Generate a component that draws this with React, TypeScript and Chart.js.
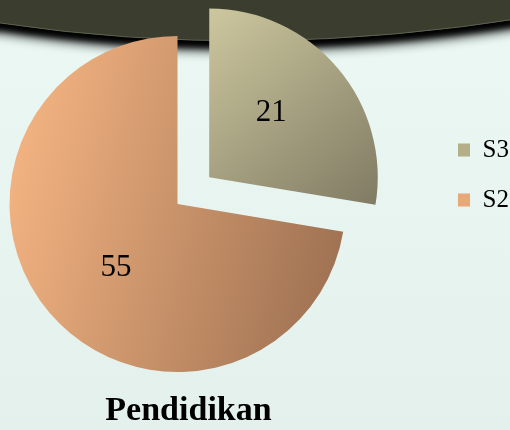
import React, { useEffect, useRef } from "react";
import { Chart, registerables } from "chart.js";

Chart.register(...registerables);

// ---- data ----
const categories = ["S3", "S2"];
const values = [21, 55];
const chartTitle = "Pendidikan";

// ---- styling ----
const sliceOffsets = [166, 0]; // Chart.js moves a slice by about offset / 4
const RADIUS = 168;
const SHIFT_X = 136; // canvas starts left of the page so title/legend/pie line up
const CANVAS_W = 649;
const CANVAS_H = 430;
const LEFT_SPACER = 58;
const LABEL_DIST = 0.53;
const LABEL_ROTATION = (-6 * Math.PI) / 180;
const gradStops = [
  ["#ccc79e", "#817b64"],
  ["#f3b381", "#9f7253"],
];
const legendColors = ["#b4ae89", "#e8a877"];
const SERIF = "'Liberation Serif', serif";

// how far Chart.js really shifts an offset arc (mirrors ArcElement.draw)
function effectiveShift(offset: number, circumference: number) {
  const base = offset / 4;
  const fix = 1 - Math.sin(Math.min(Math.PI, circumference || 0));
  return base + base * fix;
}

const backgroundPlugin = {
  id: "pageBackground",
  beforeDraw(chart: any) {
    const { ctx, width, height } = chart;
    ctx.save();
    const g = ctx.createLinearGradient(0, 0, 0, height);
    g.addColorStop(0, "#ebf8f4");
    g.addColorStop(1, "#e3f0ec");
    ctx.fillStyle = g;
    ctx.fillRect(0, 0, width, height);
    ctx.translate(SHIFT_X, 0);
    const band = () => {
      ctx.beginPath();
      ctx.moveTo(-SHIFT_X - 5, -30);
      ctx.lineTo(530, -30);
      ctx.lineTo(530, 17);
      ctx.quadraticCurveTo(255, 61.5, 0, 23);
      ctx.lineTo(-SHIFT_X - 5, 21);
      ctx.closePath();
    };
    ctx.fillStyle = "#3b3d2f";
    ctx.shadowColor = "rgba(0,0,0,1)";
    ctx.shadowBlur = 12;
    ctx.shadowOffsetY = 9;
    band();
    ctx.fill();
    ctx.shadowBlur = 6;
    ctx.shadowOffsetY = 6;
    band();
    ctx.fill();
    ctx.shadowColor = "transparent";
    band();
    ctx.fill();
    ctx.beginPath();
    ctx.moveTo(530, 17);
    ctx.quadraticCurveTo(255, 61.5, 0, 23);
    ctx.strokeStyle = "rgba(110,115,95,0.7)";
    ctx.lineWidth = 1;
    ctx.stroke();
    ctx.restore();
  },
};

const sliceLabelPlugin = {
  id: "sliceLabels",
  afterDatasetsDraw(chart: any) {
    const meta = chart.getDatasetMeta(0);
    const data = chart.data.datasets[0].data;
    const ctx = chart.ctx;
    ctx.save();
    ctx.font = `31px ${SERIF}`;
    ctx.fillStyle = "#000";
    ctx.textAlign = "center";
    ctx.textBaseline = "middle";
    meta.data.forEach((arc: any, i: number) => {
      const { x, y, startAngle, endAngle, outerRadius, circumference } = arc.getProps(
        ["x", "y", "startAngle", "endAngle", "outerRadius", "circumference"],
        true
      );
      const mid = (startAngle + endAngle) / 2;
      const shift = effectiveShift(arc.options.offset || 0, circumference);
      const vx = x + Math.cos(mid) * shift;
      const vy = y + Math.sin(mid) * shift;
      const a = mid + LABEL_ROTATION;
      const d = outerRadius * LABEL_DIST;
      ctx.fillText(String(data[i]), vx + Math.cos(a) * d, vy + Math.sin(a) * d);
    });
    ctx.restore();
  },
};

function sliceFill(c: any) {
  const chart = c.chart;
  const ca = chart.chartArea;
  const i = c.dataIndex ?? 0;
  if (!ca) return legendColors[i];
  const cx = (ca.left + ca.right) / 2;
  const cy = (ca.top + ca.bottom) / 2;
  const total = values.reduce((s, v) => s + v, 0);
  let start = -Math.PI / 2;
  for (let k = 0; k < i; k++) start += (values[k] / total) * Math.PI * 2;
  const circ = (values[i] / total) * Math.PI * 2;
  const mid = start + circ / 2;
  const shift = effectiveShift(sliceOffsets[i], circ);
  const vx = cx + Math.cos(mid) * shift;
  const vy = cy + Math.sin(mid) * shift;
  const g =
    i === 0
      ? chart.ctx.createLinearGradient(vx, vy - RADIUS, vx + RADIUS, vy + 0.15 * RADIUS)
      : chart.ctx.createLinearGradient(vx - RADIUS, vy - 0.25 * RADIUS, vx + RADIUS, vy + 0.25 * RADIUS);
  g.addColorStop(0, gradStops[i][0]);
  g.addColorStop(1, gradStops[i][1]);
  return g;
}

export default function App() {
  const ref = useRef<HTMLCanvasElement>(null);

  useEffect(() => {
    if (!ref.current) return;
    const chart = new Chart(ref.current, {
      type: "pie",
      data: {
        labels: categories,
        datasets: [
          {
            data: values,
            backgroundColor: sliceFill as any,
            borderWidth: 0,
            offset: sliceOffsets,
            radius: RADIUS,
            clip: false,
          } as any,
        ],
      },
      options: {
        responsive: false,
        animation: false,
        devicePixelRatio: 1,
        layout: { padding: { left: 0, right: 0, top: 112.5, bottom: 1.5 } },
        plugins: {
          legend: {
            position: "right",
            align: "start",
            fullSize: false,
            maxWidth: 80,
            labels: {
              color: "#000",
              font: { family: SERIF, size: 25 },
              boxWidth: 12,
              boxHeight: 13,
              padding: 25,
              generateLabels: () =>
                categories.map((t, i) => ({
                  text: t,
                  fillStyle: legendColors[i],
                  strokeStyle: legendColors[i],
                  lineWidth: 0,
                  hidden: false,
                  index: i,
                  fontColor: "#000",
                })),
            },
          },
          // empty left box: only reserves space so the pie sits left of the title centre
          subtitle: {
            display: true,
            text: "",
            position: "left",
            fullSize: false,
            font: { size: 1, lineHeight: 1 },
            padding: { top: LEFT_SPACER - 1, bottom: 0 },
          },
          title: {
            display: true,
            text: chartTitle,
            position: "bottom",
            fullSize: true,
            color: "#000",
            font: { family: SERIF, size: 34, weight: "bold", lineHeight: 1 },
            padding: { top: 99, bottom: 0 },
          },
          tooltip: { enabled: false },
        },
      } as any,
      plugins: [backgroundPlugin, sliceLabelPlugin],
    });
    return () => chart.destroy();
  }, []);

  return (
    <div
      style={{
        position: "fixed",
        left: 0,
        top: 0,
        width: 510,
        height: 430,
        overflow: "hidden",
        background: "#e8f6f2",
      }}
    >
      <canvas
        ref={ref}
        width={CANVAS_W}
        height={CANVAS_H}
        style={{ position: "absolute", left: -SHIFT_X, top: 0, width: CANVAS_W, height: CANVAS_H }}
      />
    </div>
  );
}
